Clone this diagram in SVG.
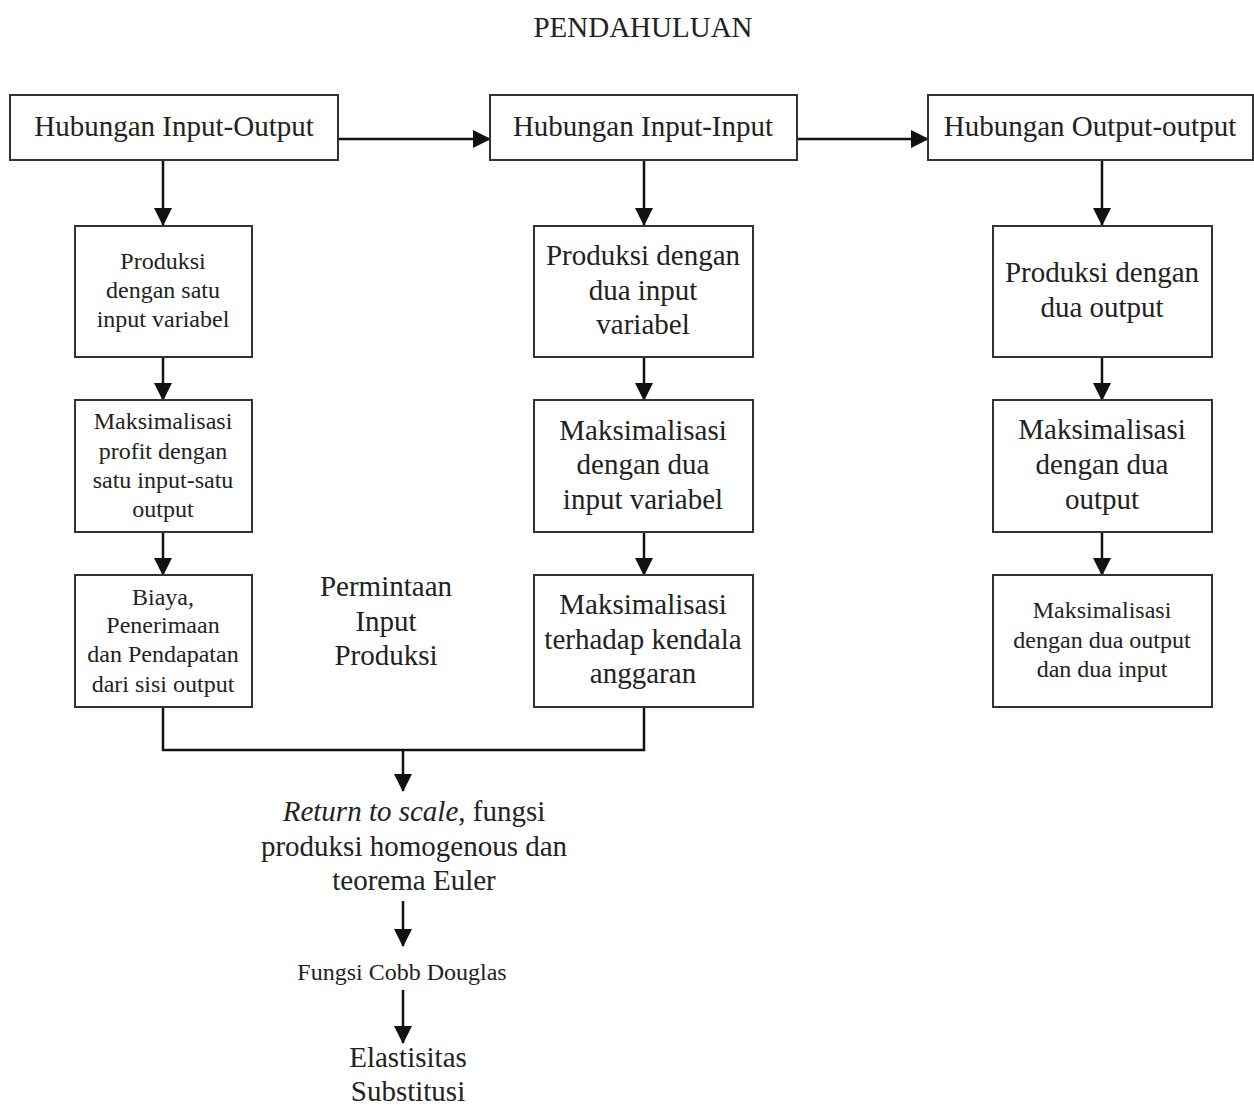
<svg xmlns="http://www.w3.org/2000/svg" width="1254" height="1108" viewBox="0 0 1254 1108">
<defs>
<style>
.box{fill:#fff;stroke:#333;stroke-width:2}
.t{font-family:"Liberation Serif","Times New Roman",serif;fill:#222;text-anchor:middle}
.l{font-size:29px}
.s{font-size:24px}
.c{fill:none;stroke:#111;stroke-width:2.5}
</style>
<marker id="ah" markerUnits="userSpaceOnUse" markerWidth="18" markerHeight="18" viewBox="0 0 18 18" refX="17" refY="9" orient="auto">
<path d="M0,0 L18,9 L0,18 Z" fill="#111"/>
</marker>
</defs>
<rect width="1254" height="1108" fill="#fff"/>
<text class="t l" x="643" y="37">PENDAHULUAN</text>

<g id="connectors">
<line class="c" x1="338" y1="139" x2="490" y2="139" marker-end="url(#ah)"/>
<line class="c" x1="797" y1="139" x2="928" y2="139" marker-end="url(#ah)"/>
<line class="c" x1="163" y1="160" x2="163" y2="225" marker-end="url(#ah)"/>
<line class="c" x1="163" y1="357" x2="163" y2="400" marker-end="url(#ah)"/>
<line class="c" x1="163" y1="532" x2="163" y2="575" marker-end="url(#ah)"/>
<line class="c" x1="644" y1="160" x2="644" y2="225" marker-end="url(#ah)"/>
<line class="c" x1="644" y1="357" x2="644" y2="400" marker-end="url(#ah)"/>
<line class="c" x1="644" y1="532" x2="644" y2="575" marker-end="url(#ah)"/>
<line class="c" x1="1102" y1="160" x2="1102" y2="225" marker-end="url(#ah)"/>
<line class="c" x1="1102" y1="357" x2="1102" y2="400" marker-end="url(#ah)"/>
<line class="c" x1="1102" y1="532" x2="1102" y2="575" marker-end="url(#ah)"/>
<polyline class="c" points="163,707 163,750 644,750 644,707"/>
<line class="c" x1="403" y1="750" x2="403" y2="791" marker-end="url(#ah)"/>
<line class="c" x1="403" y1="901" x2="403" y2="946" marker-end="url(#ah)"/>
<line class="c" x1="403" y1="990" x2="403" y2="1043" marker-end="url(#ah)"/>
</g>

<g id="n-io">
<rect class="box" x="10" y="95" width="328" height="65"/>
<text class="t l" x="174" y="136">Hubungan Input-Output</text>
</g>
<g id="n-ii">
<rect class="box" x="490" y="95" width="307" height="65"/>
<text class="t l" x="643" y="136">Hubungan Input-Input</text>
</g>
<g id="n-oo">
<rect class="box" x="928" y="95" width="325" height="65"/>
<text class="t l" x="1090" y="136">Hubungan Output-output</text>
</g>

<g id="n-l1">
<rect class="box" x="75" y="226" width="177" height="131"/>
<text class="t s" x="163" y="269">Produksi</text>
<text class="t s" x="163" y="298">dengan satu</text>
<text class="t s" x="163" y="327">input variabel</text>
</g>
<g id="n-l2">
<rect class="box" x="75" y="400" width="177" height="132"/>
<text class="t s" x="163" y="429">Maksimalisasi</text>
<text class="t s" x="163" y="459">profit dengan</text>
<text class="t s" x="163" y="488">satu input-satu</text>
<text class="t s" x="163" y="517">output</text>
</g>
<g id="n-l3">
<rect class="box" x="75" y="575" width="177" height="132"/>
<text class="t s" x="163" y="605">Biaya,</text>
<text class="t s" x="163" y="633">Penerimaan</text>
<text class="t s" x="163" y="662">dan Pendapatan</text>
<text class="t s" x="163" y="692">dari sisi output</text>
</g>

<g id="n-perm">
<text class="t l" x="386" y="596">Permintaan</text>
<text class="t l" x="386" y="631">Input</text>
<text class="t l" x="386" y="665">Produksi</text>
</g>

<g id="n-m1">
<rect class="box" x="534" y="226" width="219" height="131"/>
<text class="t l" x="643" y="265">Produksi dengan</text>
<text class="t l" x="643" y="300">dua input</text>
<text class="t l" x="643" y="334">variabel</text>
</g>
<g id="n-m2">
<rect class="box" x="534" y="400" width="219" height="132"/>
<text class="t l" x="643" y="440">Maksimalisasi</text>
<text class="t l" x="643" y="474">dengan dua</text>
<text class="t l" x="643" y="509">input variabel</text>
</g>
<g id="n-m3">
<rect class="box" x="534" y="575" width="219" height="132"/>
<text class="t l" x="643" y="614">Maksimalisasi</text>
<text class="t l" x="643" y="649">terhadap kendala</text>
<text class="t l" x="643" y="683">anggaran</text>
</g>

<g id="n-r1">
<rect class="box" x="993" y="226" width="219" height="131"/>
<text class="t l" x="1102" y="282">Produksi dengan</text>
<text class="t l" x="1102" y="317">dua output</text>
</g>
<g id="n-r2">
<rect class="box" x="993" y="400" width="219" height="132"/>
<text class="t l" x="1102" y="439">Maksimalisasi</text>
<text class="t l" x="1102" y="474">dengan dua</text>
<text class="t l" x="1102" y="509">output</text>
</g>
<g id="n-r3">
<rect class="box" x="993" y="575" width="219" height="132"/>
<text class="t s" x="1102" y="618">Maksimalisasi</text>
<text class="t s" x="1102" y="648">dengan dua output</text>
<text class="t s" x="1102" y="677">dan dua input</text>
</g>

<g id="n-rts">
<text class="t l" x="414" y="821"><tspan font-style="italic">Return to scale</tspan>, fungsi</text>
<text class="t l" x="414" y="856">produksi homogenous dan</text>
<text class="t l" x="414" y="890">teorema Euler</text>
</g>
<g id="n-cobb">
<text class="t s" x="402" y="980">Fungsi Cobb Douglas</text>
</g>
<g id="n-elas">
<text class="t l" x="408" y="1067">Elastisitas</text>
<text class="t l" x="408" y="1101">Substitusi</text>
</g>
</svg>
